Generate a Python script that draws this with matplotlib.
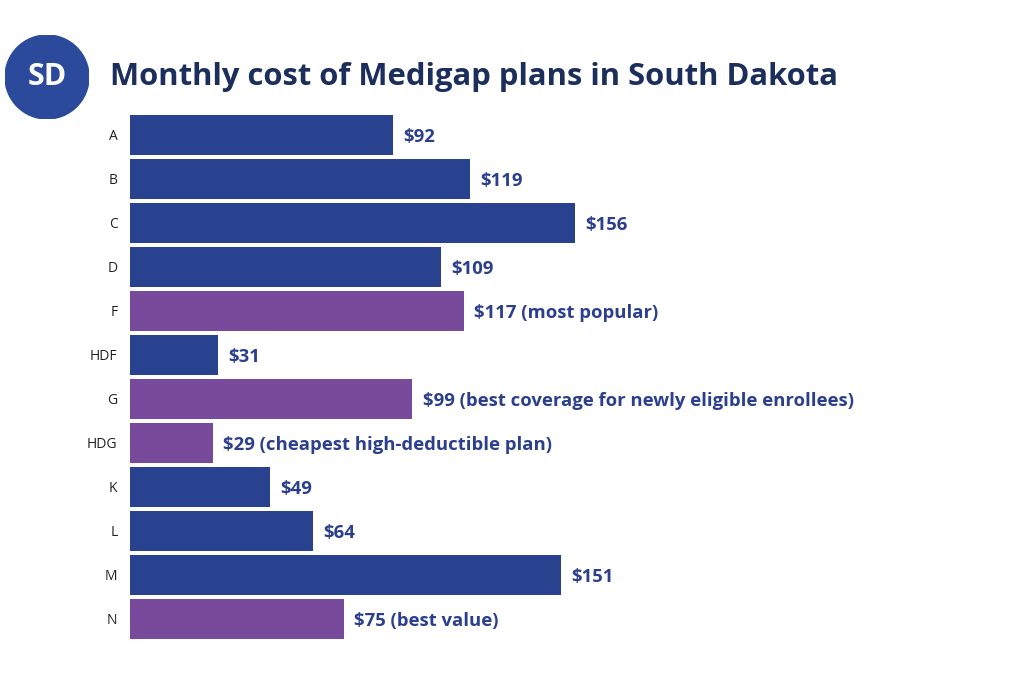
import matplotlib
matplotlib.use("Agg")
import matplotlib.pyplot as plt
from matplotlib.patches import Circle

plans = ["A", "B", "C", "D", "F", "HDF", "G", "HDG", "K", "L", "M", "N"]
costs = [92, 119, 156, 109, 117, 31, 99, 29, 49, 64, 151, 75]
notes = ["", "", "", "", "most popular", "", "best coverage for newly eligible enrollees",
         "cheapest high-deductible plan", "", "", "", "best value"]
highlight = [False, False, False, False, True, False, True, True, False, False, False, True]

blue = "#28428f"
purple = "#774a9b"
label_col = "#2b3f8c"
title_col = "#1c2f5c"

plt.rcParams['font.family'] = ['Open Sans', 'DejaVu Sans']

fig = plt.figure(figsize=(10.24, 6.76), dpi=100)
W, H = 1024, 676

# axes placed in pixel terms: bars start at x=130, rows 113..641
ax = fig.add_axes([130 / W, (H - 641) / H, 856 / W, 528 / H])
colors = [purple if h else blue for h in highlight]
ax.barh(range(len(plans)), costs, height=0.9, color=colors)
ax.set_xlim(0, 300)
ax.set_ylim(len(plans) - 0.5, -0.5)
ax.set_yticks(range(len(plans)))
ax.set_yticklabels(plans, fontsize=10, color="#222222")
ax.tick_params(axis="y", length=0, pad=9)
ax.set_xticks([])
for s in ax.spines.values():
    s.set_visible(False)

for i, (c, n) in enumerate(zip(costs, notes)):
    txt = f"${c}" + (f" ({n})" if n else "")
    ax.text(c + 3.6, i + 0.04, txt, va="center", ha="left", fontsize=13.3,
            fontweight="bold", color=label_col)

# badge
badge = fig.add_axes([5 / W, (H - 119) / H, 84 / W, 84 / H])
badge.set_xlim(-1, 1)
badge.set_ylim(-1, 1)
badge.set_aspect("equal")
badge.axis("off")
badge.add_patch(Circle((0, 0), 1, color="#2b4a9b"))
badge.text(0, 0, "SD", color="white", fontsize=22, fontweight="bold",
           ha="center", va="center")

fig.text(110 / W, (H - 77) / H, "Monthly cost of Medigap plans in South Dakota",
         fontsize=22.3, fontweight="bold", color=title_col, ha="left", va="center")

fig.savefig("out.png", dpi=100, facecolor="white")
